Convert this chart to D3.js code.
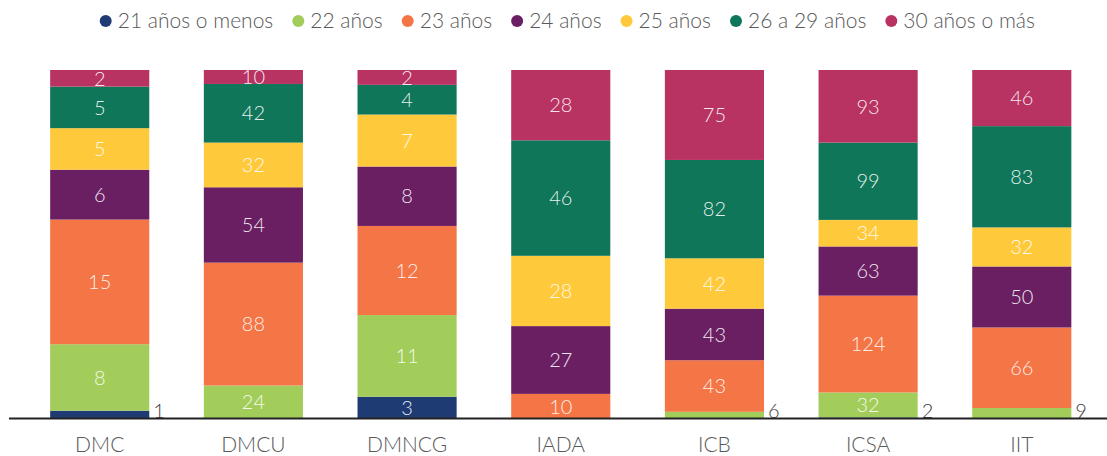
<!DOCTYPE html>
<html>
<head>
<meta charset="utf-8">
<script src="https://cdn.jsdelivr.net/npm/d3@7"></script>
<style>
  body { margin: 0; background: #fff; }
  svg { display: block; font-family: Lato, "Open Sans", sans-serif; }
</style>
</head>
<body>
<div id="chart"></div>
<script>
// categories (x axis)
const categories = ["DMC", "DMCU", "DMNCG", "IADA", "ICB", "ICSA", "IIT"];

// series, bottom to top
const seriesNames = ["21 años o menos", "22 años", "23 años", "24 años", "25 años", "26 a 29 años", "30 años o más"];
const seriesColors = ["#1f3b73", "#a2cd5a", "#f47545", "#6b1f63", "#ffc93c", "#0f7659", "#b83262"];

const s21 = [1, 0, 3, 0, 0, 2, 0];
const s22 = [8, 24, 11, 0, 6, 32, 9];
const s23 = [15, 88, 12, 10, 43, 124, 66];
const s24 = [6, 54, 8, 27, 43, 63, 50];
const s25 = [5, 32, 7, 28, 42, 34, 32];
const s2629 = [5, 42, 4, 46, 82, 99, 83];
const s30 = [2, 10, 2, 28, 75, 93, 46];

const seriesValues = [s21, s22, s23, s24, s25, s2629, s30];

const width = 1107, height = 456;
const margin = { top: 70, bottom: 37, left: 22.5, right: 8 };
const plotBottom = height - margin.bottom; // 419

const svg = d3.select("#chart").append("svg")
  .attr("width", width)
  .attr("height", height);

// table for d3.stack
const table = categories.map((c, i) => {
  const row = { cat: c };
  seriesNames.forEach((s, j) => { row[s] = seriesValues[j][i]; });
  return row;
});

const stacked = d3.stack()
  .keys(seriesNames)
  .offset(d3.stackOffsetExpand)(table);

const x = d3.scaleBand()
  .domain(categories)
  .range([margin.left, width - margin.right])
  .paddingInner(0.355)
  .paddingOuter(0.18);

const y = d3.scaleLinear().domain([0, 1]).range([plotBottom, margin.top]);

const color = d3.scaleOrdinal().domain(seriesNames).range(seriesColors);

// bars
const layers = svg.append("g").attr("class", "bars")
  .selectAll("g")
  .data(stacked)
  .join("g")
  .attr("fill", (d) => color(d.key));

layers.selectAll("rect")
  .data((d) => d.map((v) => Object.assign(v, { key: d.key })))
  .join("rect")
  .attr("x", (d) => x(d.data.cat))
  .attr("y", (d) => y(d[1]))
  .attr("width", x.bandwidth())
  .attr("height", (d) => Math.max(0, y(d[0]) - y(d[1])));

// value labels
const labelsG = svg.append("g").attr("class", "labels")
  .attr("font-size", "20px")
  .attr("font-weight", 300);

stacked.forEach((layer) => {
  layer.forEach((d) => {
    const v = d.data[layer.key];
    if (!v) return;
    const h = y(d[0]) - y(d[1]);
    if (h >= 12) {
      labelsG.append("text")
        .attr("x", x(d.data.cat) + x.bandwidth() / 2)
        .attr("y", (y(d[0]) + y(d[1])) / 2)
        .attr("text-anchor", "middle")
        .attr("dy", "0.36em")
        .attr("fill", "#fff")
        .attr("fill-opacity", 0.9)
        .text(v);
    } else {
      // tiny segments: label outside, right of the bar
      labelsG.append("text")
        .attr("x", x(d.data.cat) + x.bandwidth() + 4)
        .attr("y", plotBottom - 1)
        .attr("text-anchor", "start")
        .attr("fill", "#404040")
        .text(v);
    }
  });
});

// baseline
svg.append("line")
  .attr("x1", 9).attr("x2", width)
  .attr("y1", plotBottom - 0.5).attr("y2", plotBottom - 0.5)
  .attr("stroke", "#222").attr("stroke-width", 2);

// x axis labels
const xAxisG = svg.append("g")
  .attr("transform", `translate(0,${plotBottom})`)
  .call(d3.axisBottom(x).tickSize(0).tickPadding(18));
xAxisG.select(".domain").remove();
xAxisG.selectAll("text")
  .attr("font-size", "21px")
  .attr("font-family", "Lato, sans-serif")
  .attr("font-weight", 300)
  .attr("fill", "#595959");

// legend
const legendG = svg.append("g").attr("class", "legend")
  .attr("font-size", "21px")
  .attr("font-weight", 300)
  .attr("fill", "#595959")
  .attr("transform", "translate(105.7,21)");

let lx = 0;
seriesNames.forEach((s) => {
  const item = legendG.append("g").attr("transform", `translate(${lx},0)`);
  item.append("circle").attr("cx", 0).attr("cy", 0).attr("r", 6).attr("fill", color(s));
  const t = item.append("text").attr("x", 12).attr("dy", "0.35em").text(s);
  lx += 12 + t.node().getComputedTextLength() + 25;
});
</script>
</body>
</html>
